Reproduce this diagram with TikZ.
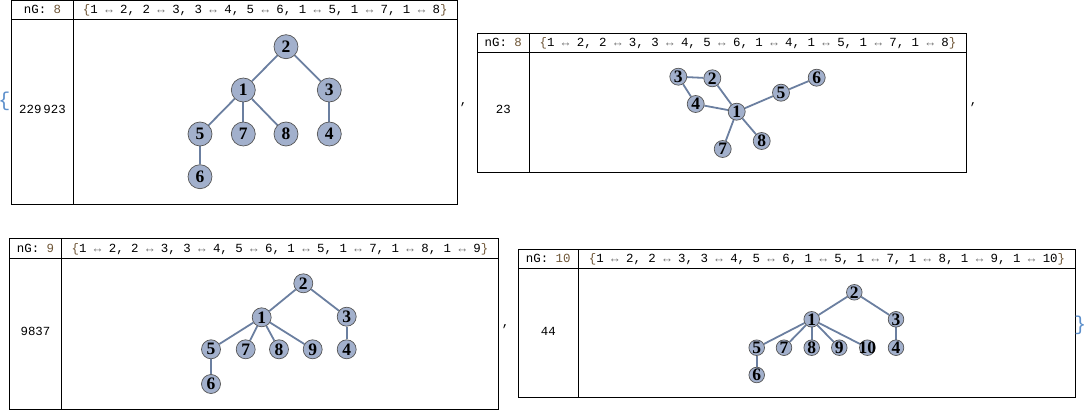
\documentclass[tikz,border=0pt]{standalone}
\usepackage{fontspec}
\setmainfont{Liberation Serif}
\newfontfamily\monof{Liberation Mono}
\usetikzlibrary{backgrounds}
\definecolor{vfill}{HTML}{A2B0CC}
\definecolor{vline}{HTML}{555555}
\definecolor{ecol}{HTML}{6B7FA0}
\definecolor{brn}{HTML}{6E5535}
\definecolor{agray}{HTML}{707070}
\definecolor{bblue}{HTML}{5C8FCB}
\newcommand\lr{\textcolor{agray}{↔}}
\newcommand\ob{\textcolor{brn}{\{}}
\newcommand\cb{\textcolor{brn}{\}}}
\tikzset{
  cell/.style={draw=black, line width=0.9pt},
  mono/.style={font=\monof\fontsize{12.4}{14}\selectfont, inner sep=0pt, anchor=base},
  vtx/.style={circle, draw=vline, line width=0.7pt, fill=vfill, inner sep=0pt,
    minimum size=#1, font=\fontsize{17.5}{17.5}\selectfont\bfseries},
  edge/.style={draw=ecol, line width=1.8pt},
  bracetxt/.style={font=\monof\fontsize{20}{20}\selectfont, text=bblue, inner sep=0pt},
  commatxt/.style={font=\monof\fontsize{12.4}{14}\selectfont, inner sep=0pt},
}
\begin{document}
\begin{tikzpicture}[x=1pt,y=-1pt]
\useasboundingbox (0,0) rectangle (1085,412);

% ---------- table 1 ----------
\draw[cell] (11.7,0.7) rectangle (457.3,204.7);
\draw[cell] (11.7,19.3) -- (457.3,19.3);
\draw[cell] (73.3,0.7) -- (73.3,204.7);
\node[mono] (h1a) at (42.5,14) {nG: \textcolor{brn}{8}};
\node[mono] (h1b) at (265.3,14) {\ob 1 \lr{} 2, 2 \lr{} 3, 3 \lr{} 4, 5 \lr{} 6, 1 \lr{} 5, 1 \lr{} 7, 1 \lr{} 8\cb};
\node[mono] (v1) at (42.5,113.5) {229\hspace{2pt}923};
\foreach \n/\x/\y in {2/286/46.7, 1/243.3/90, 3/329.3/90, 5/200/134, 7/243.3/134, 8/286/134, 4/329.3/134, 6/200/176.7}
  \node[vtx=24pt] (a\n) at (\x,\y) {\makebox[0pt]{\n}};
\begin{scope}[on background layer]
\foreach \u/\v in {1/2, 2/3, 3/4, 5/6, 1/5, 1/7, 1/8}
  \draw[edge] (a\u) -- (a\v);
\end{scope}

% ---------- table 2 ----------
\draw[cell] (477.3,33.3) rectangle (966.7,172.7);
\draw[cell] (477.3,52.7) -- (966.7,52.7);
\draw[cell] (529.3,33.3) -- (529.3,172.7);
\node[mono] (h2a) at (503.3,46.5) {nG: \textcolor{brn}{8}};
\node[mono] (h2b) at (748,46.5) {\ob 1 \lr{} 2, 2 \lr{} 3, 3 \lr{} 4, 5 \lr{} 6, 1 \lr{} 4, 1 \lr{} 5, 1 \lr{} 7, 1 \lr{} 8\cb};
\node[mono] (v2) at (503.3,113.5) {23};
\foreach \n/\x/\y in {3/678.3/76.7, 2/712.3/78.3, 4/695.7/104, 1/736.7/111.7, 5/781/92.7, 6/816.7/77.7, 7/722.7/149, 8/761.7/141}
  \node[vtx=17pt] (b\n) at (\x,\y) {\makebox[0pt]{\n}};
\begin{scope}[on background layer]
\foreach \u/\v in {1/2, 2/3, 3/4, 5/6, 1/4, 1/5, 1/7, 1/8}
  \draw[edge] (b\u) -- (b\v);
\end{scope}

% ---------- table 3 ----------
\draw[cell] (9.3,238.3) rectangle (498.3,409.3);
\draw[cell] (9.3,258.3) -- (498.3,258.3);
\draw[cell] (61.7,238.3) -- (61.7,409.3);
\node[mono] (h3a) at (35.5,252.3) {nG: \textcolor{brn}{9}};
\node[mono] (h3b) at (280,252.3) {\ob 1 \lr{} 2, 2 \lr{} 3, 3 \lr{} 4, 5 \lr{} 6, 1 \lr{} 5, 1 \lr{} 7, 1 \lr{} 8, 1 \lr{} 9\cb};
\node[mono] (v3) at (35.5,335.2) {9837};
\foreach \n/\x/\y in {2/303.3/283.3, 1/261.7/317.3, 3/346.7/316.7, 5/211/349.3, 7/245.7/349.3, 8/279/349.3, 9/312.7/349.3, 4/346.7/349.3, 6/211/384}
  \node[vtx=19pt] (c\n) at (\x,\y) {\makebox[0pt]{\n}};
\begin{scope}[on background layer]
\foreach \u/\v in {1/2, 2/3, 3/4, 5/6, 1/5, 1/7, 1/8, 1/9}
  \draw[edge] (c\u) -- (c\v);
\end{scope}

% ---------- table 4 ----------
\draw[cell] (518.3,249.3) rectangle (1075.7,397.7);
\draw[cell] (518.3,268.7) -- (1075.7,268.7);
\draw[cell] (578.3,249.3) -- (578.3,397.7);
\node[mono] (h4a) at (548.3,262.7) {nG: \textcolor{brn}{10}};
\node[mono] (h4b) at (827,262.7) {\ob 1 \lr{} 2, 2 \lr{} 3, 3 \lr{} 4, 5 \lr{} 6, 1 \lr{} 5, 1 \lr{} 7, 1 \lr{} 8, 1 \lr{} 9, 1 \lr{} 10\cb};
\node[mono] (v4) at (548.3,335.2) {44};
\foreach \n/\x/\y in {2/854.3/292.3, 1/811.7/319.3, 3/896/319.3, 5/756.7/347.7, 7/784/347.7, 8/811.7/347.7, 9/839.3/347.7, 10/867.3/347.7, 4/896/347.7, 6/756.7/375}
  \node[vtx=15.6pt] (d\n) at (\x,\y) {\makebox[0pt]{\n}};
\begin{scope}[on background layer]
\foreach \u/\v in {1/2, 2/3, 3/4, 5/6, 1/5, 1/7, 1/8, 1/9, 1/10}
  \draw[edge] (d\u) -- (d\v);
\end{scope}

% ---------- list punctuation ----------
\node[bracetxt] (lbrace) at (4.3,101) {\{};
\node[bracetxt] (rbrace) at (1080,325) {\}};
\node[commatxt] (c1) at (463.5,105) {,};
\node[commatxt] (c2) at (973.5,105) {,};
\node[commatxt] (c3) at (505.5,327) {,};
\end{tikzpicture}
\end{document}
